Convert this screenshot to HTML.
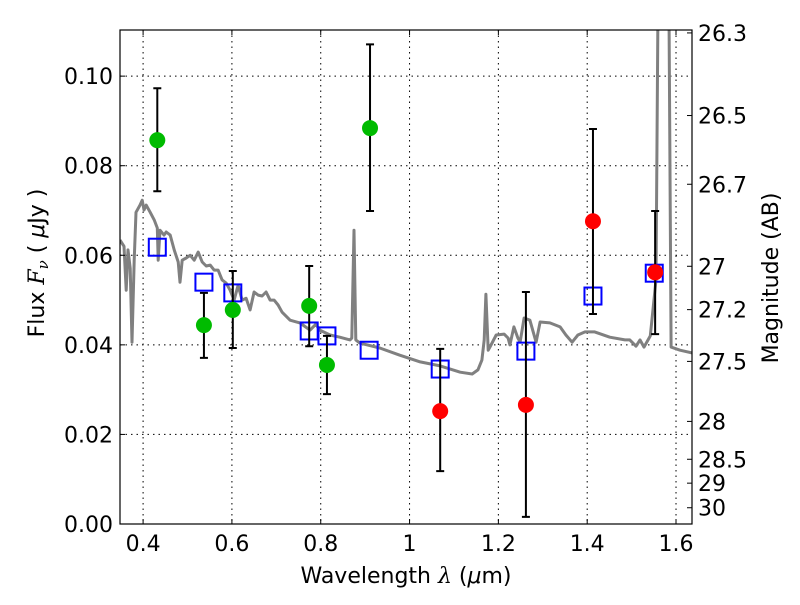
<!DOCTYPE html>
<html><head><meta charset="utf-8"><style>
html,body{margin:0;padding:0;background:#fff}
svg{font-family:"DejaVu Sans","Liberation Sans",sans-serif}
</style></head><body>
<svg id="chart" width="800" height="600" viewBox="0 0 800 600">
<defs><clipPath id="pc"><rect x="120" y="30" width="572" height="494"/></clipPath></defs>
<rect x="0" y="0" width="800" height="600" fill="#fff"/>
<g id="grid"></g>
<g id="spec" clip-path="url(#pc)"></g>
<g id="marks" clip-path="url(#pc)"></g>
<rect x="120" y="30" width="572" height="494" fill="none" stroke="#000" stroke-width="1.2"/>
<g id="axes"></g>
<text x="0" y="0" transform="translate(44,263) rotate(-90)" text-anchor="middle" font-size="22">Flux  <tspan font-family="DejaVu Serif" font-style="italic">F</tspan><tspan font-family="DejaVu Serif" font-style="italic" font-size="15" dy="4">ν</tspan><tspan dy="-4">  (  </tspan><tspan font-style="italic">μ</tspan>Jy )</text>
<text x="0" y="0" transform="translate(778,278) rotate(-90)" text-anchor="middle" font-size="22">Magnitude (AB)</text>
<text x="406" y="583" text-anchor="middle" font-size="22">Wavelength  <tspan font-family="DejaVu Serif" font-style="italic">λ</tspan> (<tspan font-style="italic">μ</tspan>m)</text>
</svg>
<script>
const specLam=[0.348,0.357,0.362,0.366,0.371,0.375,0.380,0.384,0.393,0.398,0.402,0.407,0.416,0.425,0.432,0.434,0.438,0.447,0.452,0.461,0.470,0.479,0.483,0.488,0.497,0.506,0.515,0.524,0.533,0.542,0.551,0.560,0.569,0.578,0.587,0.596,0.605,0.614,0.623,0.632,0.641,0.650,0.659,0.668,0.677,0.686,0.695,0.704,0.713,0.731,0.753,0.776,0.789,0.798,0.821,0.843,0.866,0.870,0.875,0.879,0.888,0.933,0.978,1.024,1.069,1.114,1.141,1.154,1.163,1.168,1.172,1.177,1.181,1.195,1.213,1.222,1.226,1.235,1.244,1.249,1.258,1.271,1.285,1.294,1.316,1.339,1.352,1.366,1.379,1.395,1.417,1.451,1.485,1.496,1.510,1.519,1.528,1.542,1.555,1.562,1.582,1.589,1.609,1.636];
const specFlux=[0.0634,0.0620,0.0522,0.0612,0.0571,0.0406,0.0589,0.0696,0.0712,0.0723,0.0701,0.0712,0.0696,0.0679,0.0661,0.0589,0.0656,0.0645,0.0652,0.0645,0.0612,0.0585,0.0540,0.0589,0.0594,0.0600,0.0589,0.0607,0.0585,0.0576,0.0578,0.0567,0.0567,0.0545,0.0538,0.0522,0.0500,0.0533,0.0500,0.0504,0.0478,0.0518,0.0511,0.0509,0.0518,0.0500,0.0500,0.0489,0.0473,0.0455,0.0449,0.0433,0.0446,0.0433,0.0422,0.0417,0.0411,0.0415,0.0656,0.0411,0.0404,0.0393,0.0377,0.0362,0.0353,0.0339,0.0335,0.0344,0.0366,0.0411,0.0513,0.0388,0.0395,0.0422,0.0424,0.0415,0.0400,0.0440,0.0415,0.0406,0.0460,0.0455,0.0406,0.0451,0.0449,0.0440,0.0422,0.0406,0.0422,0.0429,0.0429,0.0417,0.0411,0.0411,0.0397,0.0411,0.0395,0.0420,0.0545,0.15,0.15,0.0395,0.0388,0.0382];
const greenLam=[0.432,0.537,0.602,0.774,0.814,0.911];
const greenFlux=[0.0857,0.0444,0.0478,0.0487,0.0355,0.0884];
const greenHi=[0.0973,0.0516,0.0565,0.0576,0.0420,0.1071];
const greenLo=[0.0743,0.0371,0.0393,0.0397,0.0290,0.0699];
const redLam=[1.069,1.262,1.413,1.553];
const redFlux=[0.0252,0.0266,0.0676,0.0562];
const redHi=[0.0391,0.0518,0.0882,0.0699];
const redLo=[0.0118,0.0016,0.0469,0.0424];
const modelLam=[0.432,0.537,0.602,0.774,0.814,0.909,1.069,1.262,1.413,1.551];
const modelFlux=[0.0618,0.0540,0.0516,0.0431,0.0420,0.0388,0.0346,0.0386,0.0509,0.0560];
const xTicks=[0.4,0.6,0.8,1.0,1.2,1.4,1.6];
const xTickLabels=["0.4","0.6","0.8","1","1.2","1.4","1.6"];
const yTicks=[0,0.02,0.04,0.06,0.08,0.10];
const yTickLabels=["0.00","0.02","0.04","0.06","0.08","0.10"];
const magTicks=[26.3,26.5,26.7,27,27.2,27.5,28,28.5,29,30];
const magTickLabels=["26.3","26.5","26.7","27","27.2","27.5","28","28.5","29","30"];

const X0=120,X1=692,Y0=524,Y1=30,LMIN=0.348,LMAX=1.636,FMIN=0,FMAX=0.1103;
const sx=l=>X0+(l-LMIN)/(LMAX-LMIN)*(X1-X0);
const sy=f=>Y0-(f-FMIN)/(FMAX-FMIN)*(Y0-Y1);
const NS="http://www.w3.org/2000/svg";
function mk(parent,tag,attrs){const e=document.createElementNS(NS,tag);for(const k in attrs)e.setAttribute(k,attrs[k]);document.getElementById(parent).appendChild(e);return e;}

xTicks.forEach((t,i)=>{const x=sx(t);
 let g=mk('grid','line',{x1:x,x2:x,y1:Y1,y2:Y0,stroke:'#000','stroke-width':1,'stroke-dasharray':'1.5,4'});
 
 
 mk('axes','line',{x1:x,x2:x,y1:Y0,y2:Y0-5,stroke:'#000'});
 mk('axes','line',{x1:x,x2:x,y1:Y1,y2:Y1+5,stroke:'#000'});
 let tx=mk('axes','text',{x:x,y:Y0+27,'text-anchor':'middle','font-size':22});
 tx.textContent=xTickLabels[i];
 
 
});
yTicks.forEach((t,i)=>{const y=sy(t);
 let g=mk('grid','line',{x1:X0,x2:X1,y1:y,y2:y,stroke:'#000','stroke-width':1,'stroke-dasharray':'1.5,4'});
 
 
 mk('axes','line',{x1:X0,x2:X0+5,y1:y,y2:y,stroke:'#000'});
 let tx=mk('axes','text',{x:X0-7,y:y+8,'text-anchor':'end','font-size':22});
 tx.textContent=yTickLabels[i];
 
 
});
magTicks.forEach((m,i)=>{const f=Math.pow(10,(23.9-m)/2.5);const y=sy(f);
 mk('axes','line',{x1:X1-5,x2:X1,y1:y,y2:y,stroke:'#000'});
 let tx=mk('axes','text',{x:X1+6,y:y+8,'text-anchor':'start','font-size':22});
 tx.textContent=magTickLabels[i];
 
 
});
let d=specLam.map((l,i)=>(i?'L':'M')+sx(l).toFixed(1)+','+sy(specFlux[i]).toFixed(1)).join('');
let sp=mk('spec','path',{d:d,fill:'none',stroke:'#808080','stroke-width':3,'stroke-linejoin':'round'});



function errbar(l,lo,hi){const x=sx(l);
 let e=mk('marks','path',{d:`M${x},${sy(lo)}V${sy(hi)}M${x-4},${sy(lo)}H${x+4}M${x-4},${sy(hi)}H${x+4}`,stroke:'#000','stroke-width':2,fill:'none'});
 
 
}
modelLam.forEach((l,i)=>{
 let r=mk('marks','rect',{x:sx(l)-8.5,y:sy(modelFlux[i])-8.5,width:17,height:17,fill:'none',stroke:'#0000ff','stroke-width':2});
 
 
});
greenLam.forEach((l,i)=>{
 errbar(l,greenLo[i],greenHi[i]);
 let c=mk('marks','circle',{cx:sx(l),cy:sy(greenFlux[i]),r:8,fill:'#00bb00'});
 
 
});
redLam.forEach((l,i)=>{
 errbar(l,redLo[i],redHi[i]);
 let c=mk('marks','circle',{cx:sx(l),cy:sy(redFlux[i]),r:8,fill:'#ff0000'});
 
 
});
</script>
</body></html>
